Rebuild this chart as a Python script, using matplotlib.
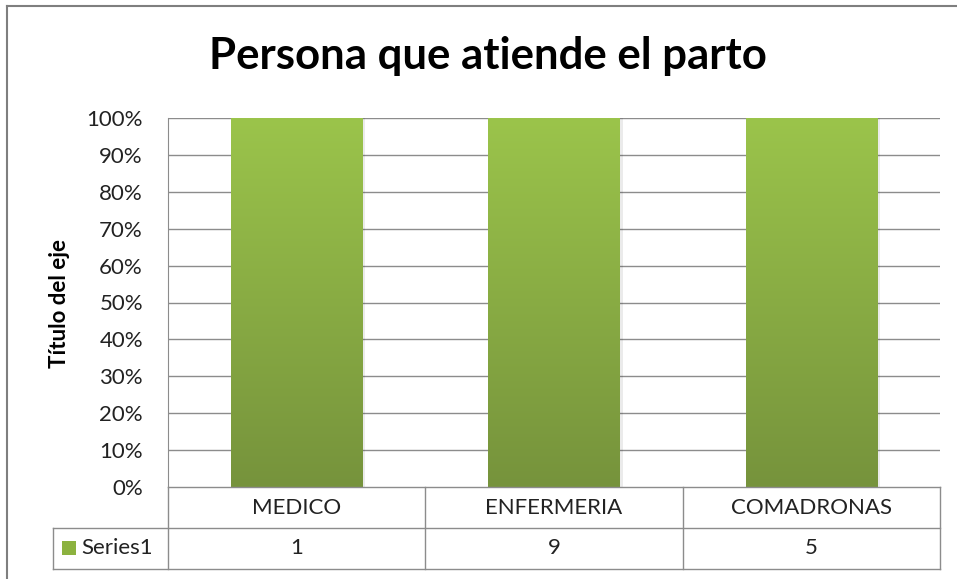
import numpy as np
import matplotlib.pyplot as plt
from matplotlib.lines import Line2D
from matplotlib.patches import Rectangle
from matplotlib.colors import LinearSegmentedColormap

plt.rcParams['font.family'] = ['Lato', 'DejaVu Sans']

# data
categories = ['MEDICO', 'ENFERMERIA', 'COMADRONAS']
series1 = [1, 9, 5]
series_name = 'Series1'
y_ticks = [0, 10, 20, 30, 40, 50, 60, 70, 80, 90, 100]

W, H = 957, 579
fig = plt.figure(figsize=(W / 100, H / 100), dpi=100)


def fx(px):
    return px / W


def fy(py):
    return 1 - py / H


# plot area in pixels
left, right, top, bottom = 168, 940, 118, 487
ax = fig.add_axes([fx(left), fy(bottom), fx(right - left), (bottom - top) / H])

# 100% stacked: a single series is always 100% of its column
totals = np.array(series1, dtype=float)
pct = np.array(series1) / totals * 100

x = np.arange(len(categories))
bar_w = 0.51
grad = LinearSegmentedColormap.from_list('g', ['#76933c', '#9bc44b'])
ramp = np.linspace(0, 1, 256).reshape(-1, 1)

for xi, p in zip(x, pct):
    # faint shadow
    ax.add_patch(Rectangle((xi - bar_w / 2 + 0.012, 0), bar_w, p,
                           facecolor='#000000', alpha=0.08, lw=0, zorder=2))
    bar = ax.bar(xi, p, width=bar_w, color='none', lw=0, zorder=3)[0]
    im = ax.imshow(ramp, cmap=grad, origin='lower', aspect='auto',
                   extent=[xi - bar_w / 2, xi + bar_w / 2, 0, p], zorder=3)
    im.set_clip_path(bar)

ax.set_xlim(-0.5, len(categories) - 0.5)
ax.set_ylim(0, 100)
ax.set_yticks(y_ticks)
ax.set_yticklabels([f'{t}%' for t in y_ticks], fontsize=16, color='#222222')
ax.tick_params(axis='y', length=0, pad=18)
ax.set_xticks([])
for t in y_ticks[1:]:
    ax.axhline(t, color='#8c8c8c', lw=1, zorder=1)
for s in ['top', 'right', 'bottom']:
    ax.spines[s].set_visible(False)
ax.spines['left'].set_color('#8c8c8c')

fig.text(fx(60), fy(303), 'Título del eje', fontsize=16, fontweight='bold',
         rotation=90, ha='center', va='center')

fig.text(fx(488), fy(56), 'Persona que atiende el parto', fontsize=31.5,
         fontweight='bold', ha='center', va='center')

# data table
lc = '#8c8c8c'
row1, row2, row3 = 487, 528, 569
tbl_left = 53
cols = [left + (right - left) * i / len(categories) for i in range(len(categories) + 1)]


def hline(y, x0, x1):
    fig.add_artist(Line2D([fx(x0), fx(x1)], [fy(y), fy(y)], color=lc, lw=1))


def vline(xp, y0, y1):
    fig.add_artist(Line2D([fx(xp), fx(xp)], [fy(y0), fy(y1)], color=lc, lw=1))


hline(row1, left, right)
hline(row2, tbl_left, right)
hline(row3, tbl_left, right)
for c in cols:
    vline(c, row1, row3)
vline(tbl_left, row2, row3)

for i, (cat, v) in enumerate(zip(categories, series1)):
    cx = (cols[i] + cols[i + 1]) / 2
    fig.text(fx(cx), fy((row1 + row2) / 2), cat, fontsize=16,
             ha='center', va='center', color='#222222')
    fig.text(fx(cx), fy((row2 + row3) / 2), str(v), fontsize=16,
             ha='center', va='center', color='#222222')

# legend key + series name
key = Rectangle((fx(62), fy(555)), fx(14), 14 / H, transform=fig.transFigure,
                facecolor='#8cb23f', edgecolor='none')
fig.add_artist(key)
fig.text(fx(81), fy((row2 + row3) / 2), series_name, fontsize=16,
         ha='left', va='center', color='#222222')

# outer chart border (left and top visible)
fig.add_artist(Line2D([fx(7), fx(7)], [fy(6), 0], color='#7f7f7f', lw=1.5))
fig.add_artist(Line2D([fx(7), 1], [fy(6), fy(6)], color='#7f7f7f', lw=1.5))

fig.savefig('out.png', dpi=100, facecolor='white')
